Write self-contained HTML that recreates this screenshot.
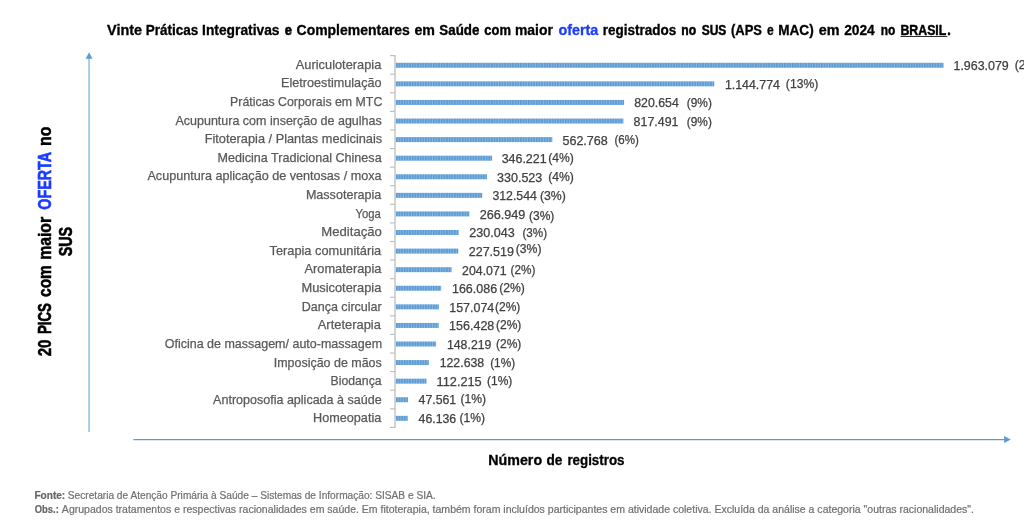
<!DOCTYPE html>
<html lang="pt-BR"><head><meta charset="utf-8"><title>Vinte Práticas Integrativas e Complementares em Saúde</title>
<style>
html,body{margin:0;padding:0;background:#fff;}
body{width:1024px;height:528px;overflow:hidden;position:relative;font-family:"Liberation Sans",sans-serif;}
svg{position:absolute;left:0;top:0;display:block;will-change:transform;}
text{font-family:"Liberation Sans",sans-serif;white-space:pre;}
.t{font-weight:bold;font-size:13.8px;fill:#000;stroke:#000;stroke-width:0.3px;}
.l{font-size:12.6px;fill:#595959;stroke:#595959;stroke-width:0.25px;}
.v{font-size:12.2px;fill:#404040;stroke:#404040;stroke-width:0.25px;}
.y{font-weight:bold;font-size:17.8px;fill:#000;stroke:#000;stroke-width:0.35px;}
.f{font-size:10px;fill:#707070;stroke:#707070;stroke-width:0.2px;}
.b{font-weight:bold;fill:#666;stroke:#666;}
.bl{fill:#1b3bff;}
.y .bl,.t .bl{stroke:#1b3bff;}
</style></head><body>
<svg width="1024" height="528" viewBox="0 0 1024 528">
<defs><pattern id="st" width="2.64" height="8" patternUnits="userSpaceOnUse" x="396"><rect width="2.64" height="8" fill="#86b5e1"/><rect width="1.6" height="8" fill="#5b9bd5"/></pattern></defs>
<rect width="1024" height="528" fill="#fff"/>
<text class="t" y="34.55"><tspan id="t0" x="107.09" textLength="35.00" lengthAdjust="spacingAndGlyphs">Vinte</tspan> <tspan id="t1" x="145.67" textLength="52.53" lengthAdjust="spacingAndGlyphs">Práticas</tspan> <tspan id="t2" x="202.10" textLength="77.40" lengthAdjust="spacingAndGlyphs">Integrativas</tspan> <tspan id="t3" style="stroke-width:0.56px" x="284.72" textLength="7.25" lengthAdjust="spacingAndGlyphs">e</tspan> <tspan id="t4" x="296.57" textLength="113.31" lengthAdjust="spacingAndGlyphs">Complementares</tspan> <tspan id="t5" x="414.48" textLength="20.55" lengthAdjust="spacingAndGlyphs">em</tspan> <tspan id="t6" style="stroke-width:0.37px" x="439.35" textLength="39.96" lengthAdjust="spacingAndGlyphs">Saúde</tspan> <tspan id="t7" style="stroke-width:0.38px" x="484.27" textLength="26.64" lengthAdjust="spacingAndGlyphs">com</tspan> <tspan id="t8" x="514.96" textLength="37.96" lengthAdjust="spacingAndGlyphs">maior</tspan> <tspan id="t9" class="bl" x="558.51" textLength="39.77" lengthAdjust="spacingAndGlyphs">oferta</tspan> <tspan id="t10" x="602.78" textLength="73.57" lengthAdjust="spacingAndGlyphs">registrados</tspan> <tspan id="t11" style="stroke-width:0.50px" x="681.27" textLength="14.84" lengthAdjust="spacingAndGlyphs">no</tspan> <tspan id="t12" style="stroke-width:0.47px" x="701.70" textLength="24.60" lengthAdjust="spacingAndGlyphs">SUS</tspan> <tspan id="t13" x="730.94" textLength="31.03" lengthAdjust="spacingAndGlyphs">(APS</tspan> <tspan id="t14" x="766.90" textLength="6.75" lengthAdjust="spacingAndGlyphs">e</tspan> <tspan id="t15" x="778.18" textLength="35.51" lengthAdjust="spacingAndGlyphs">MAC)</tspan> <tspan id="t16" x="818.67" textLength="20.80" lengthAdjust="spacingAndGlyphs">em</tspan> <tspan id="t17" x="844.13" textLength="30.63" lengthAdjust="spacingAndGlyphs">2024</tspan> <tspan id="t18" style="stroke-width:0.44px" x="880.77" textLength="14.56" lengthAdjust="spacingAndGlyphs">no</tspan> <tspan id="t19" style="stroke-width:0.45px" x="900.47" textLength="45.59" lengthAdjust="spacingAndGlyphs">BRASIL</tspan> <tspan id="t20" style="stroke-width:0.58px" x="947.28" textLength="3.55" lengthAdjust="spacingAndGlyphs">.</tspan></text>
<rect x="900.6" y="36.0" width="46.8" height="1" fill="#2a2a2a"/>
<g stroke="#5b9bd5" fill="none"><line x1="89.05" y1="58" x2="89.05" y2="432" stroke-width="1"/><line x1="133.5" y1="439.5" x2="1005" y2="439.5" stroke-width="1.25"/></g>
<path d="M89.1 52.2 L92.5 58.8 L85.7 58.8 Z" fill="#5b9bd5"/>
<path d="M1010.8 439.5 L1004.1 442.9 L1004.1 436.1 Z" fill="#5b9bd5"/>
<g stroke="#c6c6c6" stroke-width="1.5" fill="none">
<line x1="395.0" y1="55.1" x2="395.0" y2="427.9"/>
</g><g stroke="#bfbfbf" stroke-width="1.15">
<line x1="390.0" y1="55.60" x2="395.0" y2="55.60"/>
<line x1="390.0" y1="74.19" x2="395.0" y2="74.19"/>
<line x1="390.0" y1="92.78" x2="395.0" y2="92.78"/>
<line x1="390.0" y1="111.37" x2="395.0" y2="111.37"/>
<line x1="390.0" y1="129.96" x2="395.0" y2="129.96"/>
<line x1="390.0" y1="148.55" x2="395.0" y2="148.55"/>
<line x1="390.0" y1="167.14" x2="395.0" y2="167.14"/>
<line x1="390.0" y1="185.73" x2="395.0" y2="185.73"/>
<line x1="390.0" y1="204.32" x2="395.0" y2="204.32"/>
<line x1="390.0" y1="222.91" x2="395.0" y2="222.91"/>
<line x1="390.0" y1="241.50" x2="395.0" y2="241.50"/>
<line x1="390.0" y1="260.09" x2="395.0" y2="260.09"/>
<line x1="390.0" y1="278.68" x2="395.0" y2="278.68"/>
<line x1="390.0" y1="297.27" x2="395.0" y2="297.27"/>
<line x1="390.0" y1="315.86" x2="395.0" y2="315.86"/>
<line x1="390.0" y1="334.45" x2="395.0" y2="334.45"/>
<line x1="390.0" y1="353.04" x2="395.0" y2="353.04"/>
<line x1="390.0" y1="371.63" x2="395.0" y2="371.63"/>
<line x1="390.0" y1="390.22" x2="395.0" y2="390.22"/>
<line x1="390.0" y1="408.81" x2="395.0" y2="408.81"/>
<line x1="390.0" y1="427.40" x2="395.0" y2="427.40"/>
</g>
<rect x="395.9" y="62.78" width="547.6" height="5" fill="url(#st)"/>
<rect x="395.9" y="81.36" width="318.4" height="5" fill="url(#st)"/>
<rect x="395.9" y="99.94" width="228.2" height="5" fill="url(#st)"/>
<rect x="395.9" y="118.53" width="227.5" height="5" fill="url(#st)"/>
<rect x="395.9" y="137.11" width="156.4" height="5" fill="url(#st)"/>
<rect x="395.9" y="155.69" width="96.2" height="5" fill="url(#st)"/>
<rect x="395.9" y="174.27" width="91.1" height="5" fill="url(#st)"/>
<rect x="395.9" y="192.85" width="86.3" height="5" fill="url(#st)"/>
<rect x="395.9" y="211.43" width="73.5" height="5" fill="url(#st)"/>
<rect x="395.9" y="230.01" width="62.8" height="5" fill="url(#st)"/>
<rect x="395.9" y="248.59" width="62.4" height="5" fill="url(#st)"/>
<rect x="395.9" y="267.17" width="55.7" height="5" fill="url(#st)"/>
<rect x="395.9" y="285.75" width="45.3" height="5" fill="url(#st)"/>
<rect x="395.9" y="304.34" width="43.0" height="5" fill="url(#st)"/>
<rect x="395.9" y="322.92" width="42.8" height="5" fill="url(#st)"/>
<rect x="395.9" y="341.50" width="40.2" height="5" fill="url(#st)"/>
<rect x="395.9" y="360.08" width="32.9" height="5" fill="url(#st)"/>
<rect x="395.9" y="378.66" width="30.6" height="5" fill="url(#st)"/>
<rect x="395.9" y="397.24" width="12.1" height="5" fill="url(#st)"/>
<rect x="395.9" y="415.82" width="11.8" height="5" fill="url(#st)"/>
<text id="l0" class="l" x="295.81" y="69.00" textLength="85.53" lengthAdjust="spacingAndGlyphs">Auriculoterapia</text>
<text id="v0" class="v" x="953.50" y="70.28" textLength="55.24" lengthAdjust="spacingAndGlyphs">1.963.079</text>
<text id="p0" class="v" x="1014.65" y="69.48" textLength="32.80" lengthAdjust="spacingAndGlyphs">(22%)</text>
<text id="l1" class="l" x="281.08" y="87.00" textLength="100.44" lengthAdjust="spacingAndGlyphs">Eletroestimulação</text>
<text id="v1" class="v" x="724.90" y="88.85" textLength="55.01" lengthAdjust="spacingAndGlyphs">1.144.774</text>
<text id="p1" class="v" x="785.87" y="87.65" textLength="32.42" lengthAdjust="spacingAndGlyphs">(13%)</text>
<text id="l2" class="l" x="230.12" y="106.00" textLength="152.18" lengthAdjust="spacingAndGlyphs">Práticas Corporais em MTC</text>
<text id="v2" class="v" x="634.18" y="107.41" textLength="44.61" lengthAdjust="spacingAndGlyphs">820.654</text>
<text id="p2" class="v" x="686.81" y="107.21" textLength="25.05" lengthAdjust="spacingAndGlyphs">(9%)</text>
<text id="l3" class="l" x="175.50" y="125.00" textLength="206.23" lengthAdjust="spacingAndGlyphs">Acupuntura com inserção de agulhas</text>
<text id="v3" class="v" x="633.63" y="125.98" textLength="44.84" lengthAdjust="spacingAndGlyphs">817.491</text>
<text id="p3" class="v" x="686.81" y="125.78" textLength="25.05" lengthAdjust="spacingAndGlyphs">(9%)</text>
<text id="l4" class="l" x="204.67" y="143.00" textLength="177.50" lengthAdjust="spacingAndGlyphs">Fitoterapia / Plantas medicinais</text>
<text id="v4" class="v" x="562.45" y="144.54" textLength="45.33" lengthAdjust="spacingAndGlyphs">562.768</text>
<text id="p4" class="v" x="614.50" y="144.34" textLength="24.46" lengthAdjust="spacingAndGlyphs">(6%)</text>
<text id="l5" class="l" x="217.50" y="162.00" textLength="164.13" lengthAdjust="spacingAndGlyphs">Medicina Tradicional Chinesa</text>
<text id="v5" class="v" x="501.65" y="163.11" textLength="44.99" lengthAdjust="spacingAndGlyphs">346.221</text>
<text id="p5" class="v" x="548.14" y="161.91" textLength="25.70" lengthAdjust="spacingAndGlyphs">(4%)</text>
<text id="l6" class="l" x="147.43" y="180.00" textLength="234.09" lengthAdjust="spacingAndGlyphs">Acupuntura aplicação de ventosas / moxa</text>
<text id="v6" class="v" x="497.06" y="181.67" textLength="45.23" lengthAdjust="spacingAndGlyphs">330.523</text>
<text id="p6" class="v" x="548.14" y="181.47" textLength="25.70" lengthAdjust="spacingAndGlyphs">(4%)</text>
<text id="l7" class="l" x="305.89" y="199.00" textLength="75.47" lengthAdjust="spacingAndGlyphs">Massoterapia</text>
<text id="v7" class="v" x="492.42" y="200.24" textLength="44.49" lengthAdjust="spacingAndGlyphs">312.544</text>
<text id="p7" class="v" x="539.95" y="200.04" textLength="25.95" lengthAdjust="spacingAndGlyphs">(3%)</text>
<text id="l8" class="l" x="355.56" y="218.00" textLength="25.35" lengthAdjust="spacingAndGlyphs">Yoga</text>
<text id="v8" class="v" x="479.70" y="218.80" textLength="45.70" lengthAdjust="spacingAndGlyphs">266.949</text>
<text id="p8" class="v" x="528.97" y="219.90" textLength="25.38" lengthAdjust="spacingAndGlyphs">(3%)</text>
<text id="l9" class="l" x="321.36" y="236.00" textLength="60.52" lengthAdjust="spacingAndGlyphs">Meditação</text>
<text id="v9" class="v" x="469.31" y="237.37" textLength="45.36" lengthAdjust="spacingAndGlyphs">230.043</text>
<text id="p9" class="v" x="522.44" y="237.17" textLength="24.58" lengthAdjust="spacingAndGlyphs">(3%)</text>
<text id="l10" class="l" x="269.49" y="255.00" textLength="111.69" lengthAdjust="spacingAndGlyphs">Terapia comunitária</text>
<text id="v10" class="v" x="468.70" y="255.93" textLength="45.31" lengthAdjust="spacingAndGlyphs">227.519</text>
<text id="p10" class="v" x="515.65" y="253.13" textLength="25.85" lengthAdjust="spacingAndGlyphs">(3%)</text>
<text id="l11" class="l" x="304.47" y="273.00" textLength="77.03" lengthAdjust="spacingAndGlyphs">Aromaterapia</text>
<text id="v11" class="v" x="462.11" y="274.50" textLength="44.52" lengthAdjust="spacingAndGlyphs">204.071</text>
<text id="p11" class="v" x="510.47" y="273.80" textLength="24.83" lengthAdjust="spacingAndGlyphs">(2%)</text>
<text id="l12" class="l" x="301.51" y="292.00" textLength="79.85" lengthAdjust="spacingAndGlyphs">Musicoterapia</text>
<text id="v12" class="v" x="451.95" y="293.06" textLength="45.17" lengthAdjust="spacingAndGlyphs">166.086</text>
<text id="p12" class="v" x="499.19" y="292.36" textLength="25.72" lengthAdjust="spacingAndGlyphs">(2%)</text>
<text id="l13" class="l" x="301.70" y="311.00" textLength="80.06" lengthAdjust="spacingAndGlyphs">Dança circular</text>
<text id="v13" class="v" x="449.27" y="311.63" textLength="44.98" lengthAdjust="spacingAndGlyphs">157.074</text>
<text id="p13" class="v" x="494.97" y="310.93" textLength="25.37" lengthAdjust="spacingAndGlyphs">(2%)</text>
<text id="l14" class="l" x="317.76" y="329.00" textLength="63.12" lengthAdjust="spacingAndGlyphs">Arteterapia</text>
<text id="v14" class="v" x="449.07" y="330.19" textLength="45.24" lengthAdjust="spacingAndGlyphs">156.428</text>
<text id="p14" class="v" x="495.97" y="329.49" textLength="25.37" lengthAdjust="spacingAndGlyphs">(2%)</text>
<text id="l15" class="l" x="164.70" y="348.00" textLength="217.37" lengthAdjust="spacingAndGlyphs">Oficina de massagem/ auto-massagem</text>
<text id="v15" class="v" x="446.95" y="348.76" textLength="44.47" lengthAdjust="spacingAndGlyphs">148.219</text>
<text id="p15" class="v" x="495.97" y="348.06" textLength="25.37" lengthAdjust="spacingAndGlyphs">(2%)</text>
<text id="l16" class="l" x="273.69" y="367.00" textLength="108.07" lengthAdjust="spacingAndGlyphs">Imposição de mãos</text>
<text id="v16" class="v" x="439.66" y="367.32" textLength="44.53" lengthAdjust="spacingAndGlyphs">122.638</text>
<text id="p16" class="v" x="490.15" y="366.62" textLength="24.94" lengthAdjust="spacingAndGlyphs">(1%)</text>
<text id="l17" class="l" x="330.51" y="385.00" textLength="51.07" lengthAdjust="spacingAndGlyphs">Biodança</text>
<text id="v17" class="v" x="436.58" y="385.89" textLength="45.14" lengthAdjust="spacingAndGlyphs">112.215</text>
<text id="p17" class="v" x="487.06" y="385.19" textLength="25.29" lengthAdjust="spacingAndGlyphs">(1%)</text>
<text id="l18" class="l" x="213.08" y="404.00" textLength="168.53" lengthAdjust="spacingAndGlyphs">Antroposofia aplicada à saúde</text>
<text id="v18" class="v" x="418.57" y="404.45" textLength="37.64" lengthAdjust="spacingAndGlyphs">47.561</text>
<text id="p18" class="v" x="460.50" y="403.25" textLength="25.62" lengthAdjust="spacingAndGlyphs">(1%)</text>
<text id="l19" class="l" x="313.08" y="422.00" textLength="68.16" lengthAdjust="spacingAndGlyphs">Homeopatia</text>
<text id="v19" class="v" x="418.57" y="423.02" textLength="37.66" lengthAdjust="spacingAndGlyphs">46.136</text>
<text id="p19" class="v" x="459.45" y="422.02" textLength="25.53" lengthAdjust="spacingAndGlyphs">(1%)</text>
<text class="t" y="465.00"><tspan id="x0" x="488.29" textLength="53.83" lengthAdjust="spacingAndGlyphs">Número</tspan> <tspan id="x1" x="546.53" textLength="15.92" lengthAdjust="spacingAndGlyphs">de</tspan> <tspan id="x2" x="567.39" textLength="57.11" lengthAdjust="spacingAndGlyphs">registros</tspan></text>
<g transform="rotate(-90)">
<text class="y" y="50.90"><tspan id="y0" style="stroke-width:0.48px" x="-356.30" textLength="16.80" lengthAdjust="spacingAndGlyphs">20</tspan> <tspan id="y1" style="stroke-width:0.66px" x="-334.06" textLength="30.95" lengthAdjust="spacingAndGlyphs">PICS</tspan> <tspan id="y2" style="stroke-width:0.56px" x="-296.98" textLength="31.80" lengthAdjust="spacingAndGlyphs">com</tspan> <tspan id="y3" style="stroke-width:0.48px" x="-259.86" textLength="43.03" lengthAdjust="spacingAndGlyphs">maior</tspan> <tspan id="y4" class="bl" style="stroke-width:0.62px" x="-209.68" textLength="57.10" lengthAdjust="spacingAndGlyphs">OFERTA</tspan> <tspan id="y5" style="stroke-width:0.48px" x="-145.90" textLength="19.43" lengthAdjust="spacingAndGlyphs">no</tspan></text>
<text class="y" y="72.30"><tspan id="y9" style="stroke-width:0.60px" x="-256.36" textLength="29.42" lengthAdjust="spacingAndGlyphs">SUS</tspan></text>
</g>
<text class="f" y="498.70"><tspan id="f0" class="b" x="34.44" textLength="30.78" lengthAdjust="spacingAndGlyphs">Fonte:</tspan> <tspan id="f1" x="67.81" textLength="367.80" lengthAdjust="spacingAndGlyphs">Secretaria de Atenção Primária à Saúde – Sistemas de Informação: SISAB e SIA.</tspan></text>
<text class="f" y="513.00"><tspan id="f2" class="b" x="34.76" textLength="24.02" lengthAdjust="spacingAndGlyphs">Obs.:</tspan> <tspan id="f3" x="61.87" textLength="912.11" lengthAdjust="spacingAndGlyphs">Agrupados tratamentos e respectivas racionalidades em saúde. Em fitoterapia, também foram incluídos participantes em atividade coletiva. Excluída da análise a categoria "outras racionalidades".</tspan></text>
</svg>
</body></html>
